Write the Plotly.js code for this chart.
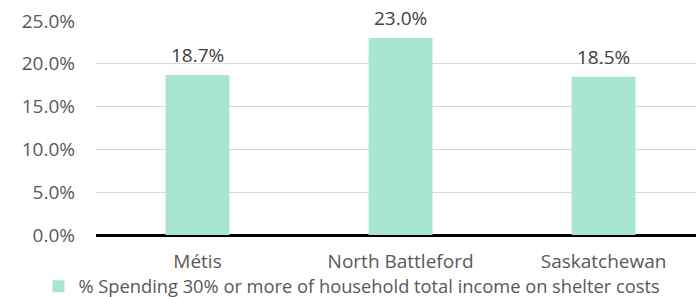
<!DOCTYPE html>
<html>
<head>
<meta charset="utf-8">
<script src="https://cdn.plot.ly/plotly-3.0.1.min.js"></script>
<style>html,body{margin:0;padding:0;background:#fff;}#chart{width:696px;height:297px;}</style>
</head>
<body>
<div id="chart"></div>
<script>
const categories = ["Métis", "North Battleford", "Saskatchewan"];
const values = [18.7, 23.0, 18.5];
const seriesName = "% Spending 30% or more of household total income on shelter costs";
const yTickVals = [0, 5, 10, 15, 20, 25];
const yTickText = ["0.0%", "5.0%", "10.0%", "15.0%", "20.0%", "25.0%"];

const FONT = "'Open Sans', 'Noto Sans', sans-serif";
const FS = 19;
const barColor = "#a8e6d2";

const trace = {
  type: "bar",
  x: categories,
  y: values,
  name: seriesName,
  marker: {color: barColor},
  width: 0.315,
  hoverinfo: "none"
};

const annotations = categories.map((c, i) => ({
  x: c, y: values[i], xref: "x", yref: "y",
  text: values[i].toFixed(1) + "%",
  showarrow: false,
  yanchor: "middle",
  yshift: 20,
  font: {family: FONT, size: FS, color: "#404040"}
}));

const layout = {
  width: 696, height: 297,
  margin: {l: 96, r: 0, t: 21, b: 62, autoexpand: false},
  paper_bgcolor: "#fff", plot_bgcolor: "#fff",
  font: {family: FONT, size: FS, color: "#595959"},
  showlegend: true,
  legend: {
    orientation: "h", x: -0.096, xanchor: "left", y: -0.24, yanchor: "middle",
    bgcolor: "rgba(0,0,0,0)", borderwidth: 0,
    font: {family: FONT, size: 18.3, color: "#595959"},
    itemclick: false
  },
  xaxis: {
    type: "category",
    range: [-0.5, 2.455],
    showgrid: false, zeroline: false, showline: false,
    ticks: "", ticklabelstandoff: 13,
    tickfont: {family: FONT, size: FS, color: "#595959"}
  },
  yaxis: {
    range: [0, 25],
    tickvals: yTickVals, ticktext: yTickText,
    showgrid: true, gridcolor: "#d9d9d9", gridwidth: 1,
    zeroline: true, zerolinecolor: "#000", zerolinewidth: 3,
    showline: false, ticks: "", ticklabelstandoff: 20,
    tickfont: {family: FONT, size: FS, color: "#595959"}
  },
  annotations: annotations
};

Plotly.newPlot("chart", [trace], layout, {displayModeBar: false, staticPlot: true});
</script>
</body>
</html>
